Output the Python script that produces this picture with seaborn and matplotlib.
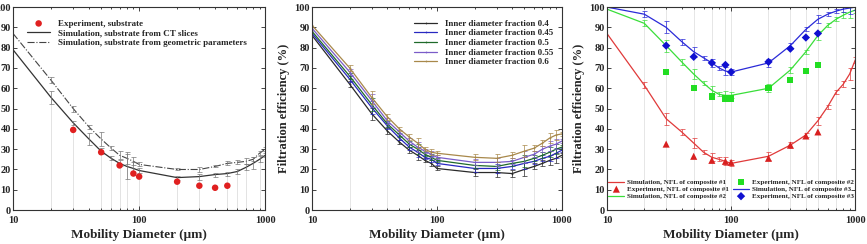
import matplotlib
matplotlib.use("Agg")
import matplotlib.pyplot as plt
import seaborn as sns
import numpy as np

sns.set_theme(style="ticks")
plt.rcParams['font.family'] = ['Liberation Serif', 'DejaVu Serif']
plt.rcParams['font.weight'] = 'bold'
plt.rcParams['axes.labelweight'] = 'bold'

# ---- data ----
x_sim = [10, 20, 30, 40, 50, 60, 70, 80, 90, 100, 200, 300, 400, 500, 600, 700, 800, 900, 1000]

# panel 1: substrate
sub_ct = [79, 55.5, 43, 35, 29, 25.5, 23, 21.5, 20.5, 19.5, 16, 16.5, 17.5, 18, 19, 21, 23, 25, 27]
sub_ct_err = [0, 3, 1, 3, 1.5, 1, 1.5, 6, 3, 1, 1, 1.5, 1, 1, 1, 1.5, 3, 1.5, 1]
sub_geo = [87, 64, 50, 41, 35, 30.5, 27, 25.5, 24, 22.5, 20, 20, 21.5, 23, 23.5, 24, 25, 28, 30]
sub_geo_err = [0, 1.5, 1.5, 1, 3.5, 1, 2, 3, 2, 1, 0.5, 1, 0.5, 1, 1, 1.5, 1, 1, 1]
x_exp1 = [30, 50, 70, 90, 100, 200, 300, 400, 500]
sub_exp = [39.5, 28.5, 22, 18, 16.5, 14, 12, 11, 12]
drop1_x = [20, 30, 50, 60, 70, 80, 100, 200, 300, 500, 600, 700, 900]

# panel 2: inner diameter fraction
frac_labels = ['Inner diameter fraction 0.4', 'Inner diameter fraction 0.45',
               'Inner diameter fraction 0.5', 'Inner diameter fraction 0.55',
               'Inner diameter fraction 0.6']
frac_04 = [86, 62, 47.5, 39, 33.5, 29.5, 27, 24.5, 23, 20.5, 18.5, 18.5, 18, 20, 21.5, 23, 24.5, 25.5, 27]
frac_045 = [87, 64.5, 50.5, 41.5, 35.5, 31, 28.5, 26, 25, 23, 20.5, 20.5, 21.5, 23, 24, 25.5, 26.5, 28, 29.5]
frac_05 = [88, 66, 52, 42.5, 37, 32.5, 30, 27.5, 26, 24.5, 22, 21.5, 23, 24, 25.5, 27, 28.5, 30, 31]
frac_055 = [89.5, 68, 54, 44, 38.5, 34, 31, 29, 27.5, 26, 23.5, 23.5, 24, 26, 27.5, 30, 31.5, 32.5, 34]
frac_06 = [91, 70, 55.5, 46, 40, 36, 33, 30, 28.5, 28, 26, 25.5, 27, 29, 30.5, 33, 35.5, 37, 37.5]
frac_err = [0, 1.5, 3, 1.5, 1, 1.5, 2.5, 1, 1.5, 1, 1.5, 2, 1.5, 3, 1.5, 1.5, 2.5, 2.5, 1]
drop2_x = [20, 40, 80, 200, 400, 600]

# panel 3: composites
comp1_sim = [87, 61.5, 45, 38.5, 33, 28.5, 26, 25, 24, 23, 26.5, 32, 37, 44, 51, 58, 62, 67, 74]
comp2_sim = [99, 92, 81, 73, 67, 62.5, 59, 57, 56.5, 56.5, 60, 69, 78, 86, 91, 94, 96, 97.5, 98.5]
comp3_sim = [100, 96.5, 90, 83, 78, 75, 72.5, 70, 68.5, 68, 72.5, 81, 89, 94, 96.5, 98, 99, 99.5, 100]
comp_err = [0, 1.5, 3, 1.5, 2.5, 1, 2, 1, 2, 1.5, 2, 1.5, 1, 2, 1, 1, 1.5, 3, 1.5]
comp1_exp = [32.5, 26.5, 24.5, 24, 23.5, 25.5, 32, 36.5, 38.5]
comp2_exp = [68, 60, 56, 55, 55, 60, 64, 68.5, 71.5]
comp3_exp = [81, 75.5, 72.5, 71.5, 68, 73, 79.5, 85, 87]
drop3_x = [20, 30, 50, 70, 90, 100, 200, 300, 400, 500, 700]

fig = plt.figure(figsize=(8.67, 2.44), dpi=100)
axes = [fig.add_axes([0.0150, 0.139, 0.291, 0.832]),
        fig.add_axes([0.360, 0.139, 0.288, 0.832]),
        fig.add_axes([0.700, 0.139, 0.2865, 0.832])]

tick_fs = 7.5
for ax in axes:
    ax.set_xscale('log')
    ax.set_xlim(10, 1000)
    ax.set_ylim(0, 100)
    ax.set_yticks(range(0, 101, 10))
    ax.set_xticks([10, 100, 1000])
    ax.set_xticklabels(['10', '100', '1000'])
    ax.tick_params(which='both', direction='in', top=True, right=True,
                   labelsize=tick_fs, width=0.6)
    ax.tick_params(axis='x', pad=4)
    ax.tick_params(axis='y', pad=1.5)
    ax.tick_params(which='major', length=3)
    ax.tick_params(which='minor', length=1.5)
    for s in ax.spines.values():
        s.set_linewidth(0.8)
        s.set_color('#333333')
    for lab in ax.get_xticklabels() + ax.get_yticklabels():
        lab.set_fontweight('bold')
    ax.set_xlabel('Mobility Diameter (μm)', fontsize=9.5, fontweight='bold', labelpad=3)

# ---- panel 1 ----
ax = axes[0]
ct_map = dict(zip(x_sim, sub_ct))
ax.vlines(drop1_x, 0, [ct_map[v] for v in drop1_x], color='#d8d8d8', lw=0.5, zorder=0)
sns.lineplot(x=x_sim, y=sub_geo, ax=ax, color='#444444', lw=0.8, linestyle='-.',
             label='Simulation, substrate from geometric parameters')
sns.lineplot(x=x_sim, y=sub_ct, ax=ax, color='#333333', lw=0.9,
             label='Simulation, substrate from CT slices')
ax.errorbar(x_sim[1:], sub_geo[1:], yerr=sub_geo_err[1:], fmt='none', ecolor='#777777',
            elinewidth=0.5, capsize=1.8, capthick=0.5)
ax.errorbar(x_sim[1:], sub_ct[1:], yerr=sub_ct_err[1:], fmt='none', ecolor='#777777',
            elinewidth=0.5, capsize=1.8, capthick=0.5)
sns.scatterplot(x=x_exp1, y=sub_exp, ax=ax, color='#e02020', s=22, edgecolor='none',
                label='Experiment, substrate', zorder=5)
h, l = ax.get_legend_handles_labels()
order = [2, 1, 0]
ax.legend([h[i] for i in order], [l[i] for i in order], loc='upper left',
          bbox_to_anchor=(0.03, 0.97), frameon=False,
          handlelength=2.6, labelspacing=0.15, borderpad=0.2,
          prop={'weight': 'bold', 'size': 6.5})
ax.set_ylabel('')

# ---- panel 2 ----
ax = axes[1]
frac_series = [frac_04, frac_045, frac_05, frac_055, frac_06]
frac_colors = ['#2a2a2a', '#2828c0', '#1f6a2a', '#7a5cc8', '#a8884a']
m04 = dict(zip(x_sim, frac_04))
ax.vlines(drop2_x, 0, [m04[v] for v in drop2_x], color='#dcdcdc', lw=0.5, zorder=0)
for ys, c, lab in zip(frac_series, frac_colors, frac_labels):
    sns.lineplot(x=x_sim, y=ys, ax=ax, color=c, lw=0.9, marker='.', markersize=2.5,
                 markeredgewidth=0, label=lab)
    ax.errorbar(x_sim[1:], ys[1:], yerr=frac_err[1:], fmt='none', ecolor=c,
                elinewidth=0.5, capsize=1.8, capthick=0.5)
ax.legend(loc='upper right', bbox_to_anchor=(0.99, 0.97), frameon=False,
          handlelength=2.6, labelspacing=0.15, borderpad=0.2,
          prop={'weight': 'bold', 'size': 6.5})
ax.set_ylabel('Filtration efficiency (%)', fontsize=9, fontweight='bold', labelpad=3)

# ---- panel 3 ----
ax = axes[2]
ax.vlines(drop3_x, 0, 100, color='#dcdcdc', lw=0.5, zorder=0)
c1, c2, c3 = '#e03a3a', '#3ade3a', '#2a2ad8'
sns.lineplot(x=x_sim, y=comp1_sim, ax=ax, color=c1, lw=0.9,
             label='Simulation, NFL of composite #1')
sns.lineplot(x=x_sim, y=comp2_sim, ax=ax, color=c2, lw=0.9,
             label='Simulation, NFL of composite #2')
sns.lineplot(x=x_sim, y=comp3_sim, ax=ax, color=c3, lw=0.9,
             label='Simulation, NFL of composite #3')
for ys, c in [(comp1_sim, c1), (comp2_sim, c2), (comp3_sim, c3)]:
    ax.errorbar(x_sim[1:], ys[1:], yerr=comp_err[1:], fmt='none', ecolor=c,
                elinewidth=0.5, capsize=1.8, capthick=0.5)
sns.scatterplot(x=x_exp1, y=comp1_exp, ax=ax, color='#d82020', marker='^', s=26,
                edgecolor='none', label='Experiment, NFL of composite #1', zorder=5)
sns.scatterplot(x=x_exp1, y=comp2_exp, ax=ax, color='#22dd22', marker='s', s=20,
                edgecolor='none', label='Experiment, NFL of composite #2', zorder=5)
sns.scatterplot(x=x_exp1, y=comp3_exp, ax=ax, color='#1010d0', marker='D', s=18,
                edgecolor='none', label='Experiment, NFL of composite #3', zorder=5)
h, l = ax.get_legend_handles_labels()
order = [0, 3, 1, 4, 2, 5]
ax.legend([h[i] for i in order], [l[i] for i in order], loc='lower center',
          bbox_to_anchor=(0.5, 0.03), ncol=2, frameon=False, handlelength=2.3,
          labelspacing=0.15, columnspacing=0.5, borderpad=0.2, handletextpad=0.4,
          prop={'weight': 'bold', 'size': 5.1})
ax.set_ylabel('Filtration efficiency (%)', fontsize=9, fontweight='bold', labelpad=3)

fig.savefig('out.png', dpi=100)
